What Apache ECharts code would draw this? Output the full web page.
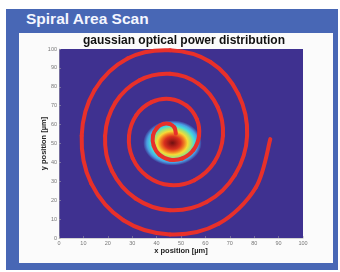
<!DOCTYPE html>
<html>
<head>
<meta charset="utf-8">
<script src="https://cdn.jsdelivr.net/npm/echarts@6/dist/echarts.min.js"></script>
<style>
  body { margin: 0; width: 340px; height: 272px; background: #fff; position: relative; overflow: hidden;
         font-family: "Liberation Sans", Arial, sans-serif; }
  #frame { position: absolute; left: 6px; top: 9px; width: 332px; height: 261px; background: #4867b5; }
  #heading { position: absolute; left: 26px; top: 10px; color: #f4f6ff; font-weight: bold; font-size: 15.5px; }
  #chart { position: absolute; left: 19px; top: 33px; width: 314px; height: 230px; background: #fbfbfb; }
</style>
</head>
<body>
<div id="frame"></div>
<div id="heading">Spiral Area Scan</div>
<div id="chart"></div>
<script>
// axis range and ticks (µm)
const axisMin = 0;
const axisMax = 100;
const tickStep = 10;

// scan path, centre outwards
const spiralX = [47.9, 47.3, 45.5, 42.8, 40.2, 38.5, 38.8, 41.2, 45.5, 50.6, 55.1, 57.4,
                 56.5, 52.3, 45.5, 37.9, 31.7, 28.7, 30.2, 36.3, 45.5, 55.5, 63.6, 67.2,
                 65.0, 57.2, 45.5, 33.0, 23.1, 18.9, 21.7, 31.4, 45.5, 60.5, 72.1, 77.1,
                 73.5, 62.1, 45.5, 28.1, 14.6, 9.3, 13.2, 26.4, 45.5, 65.4, 80.6, 86.6];
const spiralY = [55.3, 58.5, 60.3, 60.4, 58.3, 54.1, 48.9, 44.0, 41.4, 42.1, 46.6, 54.1,
                 62.8, 70.0, 73.6, 71.9, 65.0, 54.1, 42.2, 32.5, 28.0, 30.6, 40.0, 54.1,
                 69.4, 81.6, 86.9, 83.5, 71.6, 54.1, 35.5, 20.9, 14.7, 19.0, 33.3, 54.1,
                 76.1, 93.1, 99.3, 95.0, 78.3, 54.1, 28.9, 9.4, 1.9, 7.5, 26.6, 52.3];

// gaussian spot: centre x, centre y, visible radius (µm)
const spotX = [46.5];
const spotY = [50.3];
const spotR = [12];

const chart = echarts.init(document.getElementById('chart'));

const labelStyle = { fontSize: 5.5, color: '#777', fontFamily: 'Liberation Sans' };
const nameStyle = { fontSize: 7.5, fontWeight: 'bold', color: '#222', fontFamily: 'Liberation Sans' };

// one smooth piece of the scan path between point i and i+1 (catmull-rom)
function spiralPiece(params, api) {
    const i = params.dataIndex;
    const n = spiralX.length;
    if (i >= n - 1) return null;
    const pt = k => {
        const j = Math.max(0, Math.min(n - 1, k));
        return api.coord([spiralX[j], spiralY[j]]);
    };
    const p0 = pt(i - 1), p1 = pt(i), p2 = pt(i + 1), p3 = pt(i + 2);
    return {
        type: 'bezierCurve',
        shape: {
            x1: p1[0], y1: p1[1], x2: p2[0], y2: p2[1],
            cpx1: p1[0] + (p2[0] - p0[0]) / 6, cpy1: p1[1] + (p2[1] - p0[1]) / 6,
            cpx2: p2[0] - (p3[0] - p1[0]) / 6, cpy2: p2[1] - (p3[1] - p1[1]) / 6
        },
        style: { stroke: '#e8302a', lineWidth: 4, fill: null, lineCap: 'round' }
    };
}

chart.setOption({
    animation: false,
    title: {
        text: 'gaussian optical power distribution',
        left: 64, top: 2, padding: 0,
        textStyle: { fontSize: 12, fontWeight: 'bold', color: '#111', fontFamily: 'Liberation Sans' }
    },
    grid: {
        left: 40, top: 16, width: 244, height: 189,
        show: true, backgroundColor: '#3f3190', borderWidth: 0
    },
    xAxis: {
        type: 'value', min: axisMin, max: axisMax, interval: tickStep,
        name: 'x position [µm]', nameLocation: 'middle', nameGap: 9, nameMoveOverlap: false,
        nameTextStyle: nameStyle,
        axisLine: { show: true, lineStyle: { color: '#aaa', width: 0.5 } },
        axisTick: { show: true, inside: true, length: 2, lineStyle: { color: '#aaa', width: 0.5 } },
        axisLabel: Object.assign({ margin: 2 }, labelStyle),
        splitLine: { show: false }
    },
    yAxis: {
        type: 'value', min: axisMin, max: axisMax, interval: tickStep,
        name: 'y position [µm]', nameLocation: 'middle', nameGap: 11, nameMoveOverlap: false,
        nameTextStyle: nameStyle,
        axisLine: { show: true, lineStyle: { color: '#aaa', width: 0.5 } },
        axisTick: { show: true, inside: true, length: 2, lineStyle: { color: '#aaa', width: 0.5 } },
        axisLabel: Object.assign({ margin: 2 }, labelStyle),
        splitLine: { show: false }
    },
    series: [
        {
            // optical power spot, drawn as a jet-coloured radial fade
            type: 'custom',
            z: 2,
            data: spotX.map((x, i) => [x, spotY[i], spotR[i]]),
            renderItem: (params, api) => {
                const c = api.coord([api.value(0), api.value(1)]);
                const s = api.size([api.value(2), api.value(2)]);
                return {
                    type: 'circle',
                    x: c[0], y: c[1], scaleX: s[0], scaleY: s[1],
                    shape: { cx: 0, cy: 0, r: 1 },
                    style: {
                        fill: new echarts.graphic.RadialGradient(0.5, 0.5, 0.5, [
                            { offset: 0, color: '#6e1010' },
                            { offset: 0.12, color: '#a01a16' },
                            { offset: 0.28, color: '#d8301e' },
                            { offset: 0.4, color: '#f07a22' },
                            { offset: 0.52, color: '#f6dc36' },
                            { offset: 0.64, color: '#a6e070' },
                            { offset: 0.75, color: '#44dcdc' },
                            { offset: 0.87, color: '#4a9ee4' },
                            { offset: 1, color: '#3f3190' }
                        ])
                    }
                };
            }
        },
        {
            // scan path
            type: 'custom',
            z: 3,
            encode: { x: 0, y: 1 },
            data: spiralX.map((x, i) => [x, spiralY[i]]),
            renderItem: spiralPiece
        }
    ]
});
</script>
</body>
</html>
